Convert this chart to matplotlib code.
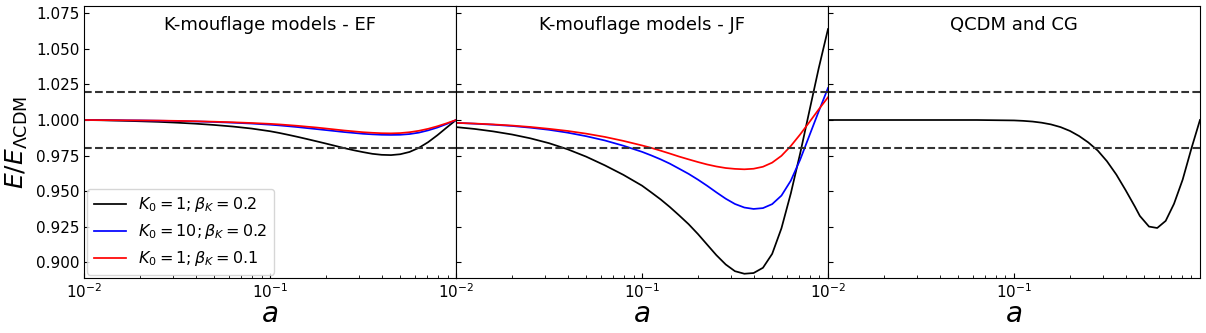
import numpy as np
import matplotlib
matplotlib.use('Agg')
import matplotlib.pyplot as plt

# scale factor grid shared by the K-mouflage curves
a_k = [0.01, 0.0126, 0.0158, 0.02, 0.0251, 0.0316, 0.0398, 0.0501, 0.0631, 0.0794,
       0.1, 0.112, 0.126, 0.141, 0.158, 0.178, 0.2, 0.224, 0.251, 0.282,
       0.316, 0.355, 0.398, 0.447, 0.501, 0.562, 0.631, 0.708, 0.794, 0.891, 1.0]

# Einstein frame
ef_k1_b02 = [1.0000, 0.9998, 0.9995, 0.9991, 0.9987, 0.9981, 0.9974, 0.9965, 0.9954, 0.9940,
             0.9921, 0.9909, 0.9895, 0.9881, 0.9866, 0.9850, 0.9834, 0.9818, 0.9802, 0.9787,
             0.9774, 0.9762, 0.9755, 0.9753, 0.9759, 0.9775, 0.9804, 0.9844, 0.9893, 0.9947, 1.0000]
ef_k10_b02 = [1.0000, 0.9999, 0.9998, 0.9997, 0.9995, 0.9993, 0.9990, 0.9986, 0.9981, 0.9975,
              0.9967, 0.9962, 0.9956, 0.9950, 0.9943, 0.9936, 0.9929, 0.9922, 0.9915, 0.9909,
              0.9903, 0.9899, 0.9896, 0.9895, 0.9896, 0.9901, 0.9911, 0.9927, 0.9947, 0.9972, 1.0000]
ef_k1_b01 = [1.0000, 0.9999, 0.9998, 0.9997, 0.9996, 0.9994, 0.9991, 0.9988, 0.9984, 0.9979,
             0.9973, 0.9969, 0.9964, 0.9959, 0.9953, 0.9947, 0.9940, 0.9933, 0.9926, 0.9920,
             0.9914, 0.9910, 0.9907, 0.9906, 0.9908, 0.9914, 0.9924, 0.9938, 0.9956, 0.9977, 1.0000]

# Jordan frame
jf_k1_b02 = [0.9950, 0.9937, 0.9920, 0.9898, 0.9871, 0.9837, 0.9794, 0.9742, 0.9681, 0.9614,
             0.9538, 0.9491, 0.9441, 0.9388, 0.9330, 0.9267, 0.9197, 0.9123, 0.9049, 0.8983,
             0.8936, 0.8918, 0.8923, 0.8960, 0.9058, 0.9238, 0.9483, 0.9763, 1.0063, 1.0363, 1.0640]
jf_k10_b02 = [0.9980, 0.9974, 0.9967, 0.9958, 0.9946, 0.9931, 0.9911, 0.9886, 0.9856, 0.9819,
              0.9776, 0.9751, 0.9723, 0.9693, 0.9658, 0.9621, 0.9580, 0.9537, 0.9491, 0.9446,
              0.9409, 0.9384, 0.9374, 0.9380, 0.9408, 0.9468, 0.9573, 0.9720, 0.9890, 1.0060, 1.0225]
jf_k1_b01 = [0.9980, 0.9975, 0.9969, 0.9961, 0.9951, 0.9938, 0.9923, 0.9904, 0.9881, 0.9853,
             0.9821, 0.9804, 0.9784, 0.9764, 0.9743, 0.9723, 0.9704, 0.9687, 0.9673, 0.9662,
             0.9656, 0.9653, 0.9657, 0.9671, 0.9700, 0.9748, 0.9817, 0.9898, 0.9985, 1.0074, 1.0160]

# QCDM and CG
a_q = [0.01, 0.02, 0.04, 0.063, 0.1, 0.112, 0.126, 0.141, 0.158, 0.178, 0.2, 0.224, 0.251,
       0.282, 0.316, 0.355, 0.398, 0.447, 0.475, 0.532, 0.589, 0.654, 0.725, 0.807, 0.902, 1.0]
e_q = [1.0000, 1.0000, 1.0000, 1.0000, 0.9997, 0.9994, 0.9989, 0.9981, 0.9969, 0.9950,
       0.9923, 0.9887, 0.9842, 0.9785, 0.9710, 0.9616, 0.9507, 0.9390, 0.9325, 0.9250,
       0.9240, 0.9290, 0.9410, 0.9580, 0.9805, 1.0000]

labels = [r'$K_0=1;\beta_K=0.2$', r'$K_0=10;\beta_K=0.2$', r'$K_0=1;\beta_K=0.1$']
titles = ['K-mouflage models - EF', 'K-mouflage models - JF', 'QCDM and CG']

fig, axes = plt.subplots(1, 3, sharey=True, figsize=(12.06, 3.33), dpi=100)
fig.subplots_adjust(left=0.0697, right=0.995, top=0.981, bottom=0.166, wspace=0)

lw = 1.25
ax = axes[0]
ax.plot(a_k, ef_k1_b02, color='k', lw=lw, label=labels[0])
ax.plot(a_k, ef_k10_b02, color='b', lw=lw, label=labels[1])
ax.plot(a_k, ef_k1_b01, color='r', lw=lw, label=labels[2])
ax.legend(loc='lower left', fontsize=11.5, borderaxespad=0.2)

ax = axes[1]
ax.plot(a_k, jf_k1_b02, color='k', lw=lw)
ax.plot(a_k, jf_k10_b02, color='b', lw=lw)
ax.plot(a_k, jf_k1_b01, color='r', lw=lw)

ax = axes[2]
ax.plot(a_q, e_q, color='k', lw=lw)

for ax, t in zip(axes, titles):
    ax.axhline(1.02, ls='--', color='0.2', lw=1.5)
    ax.axhline(0.98, ls='--', color='0.2', lw=1.5)
    ax.set_xscale('log')
    ax.set_xlim(1e-2, 1)
    ax.set_xticks([1e-2, 1e-1])
    ax.text(0.5, 0.93, t, transform=ax.transAxes, ha='center', va='center', fontsize=13)
    ax.set_xlabel(r'$a$', fontsize=20, labelpad=-1)
    ax.tick_params(which='both', direction='in', labelsize=11)

axes[0].set_ylim(0.889, 1.080)
axes[0].set_yticks([0.900, 0.925, 0.950, 0.975, 1.000, 1.025, 1.050, 1.075])
axes[0].set_ylabel(r'$E/E_{\Lambda \rm CDM}$', fontsize=18)

fig.savefig('out.png', dpi=100)
